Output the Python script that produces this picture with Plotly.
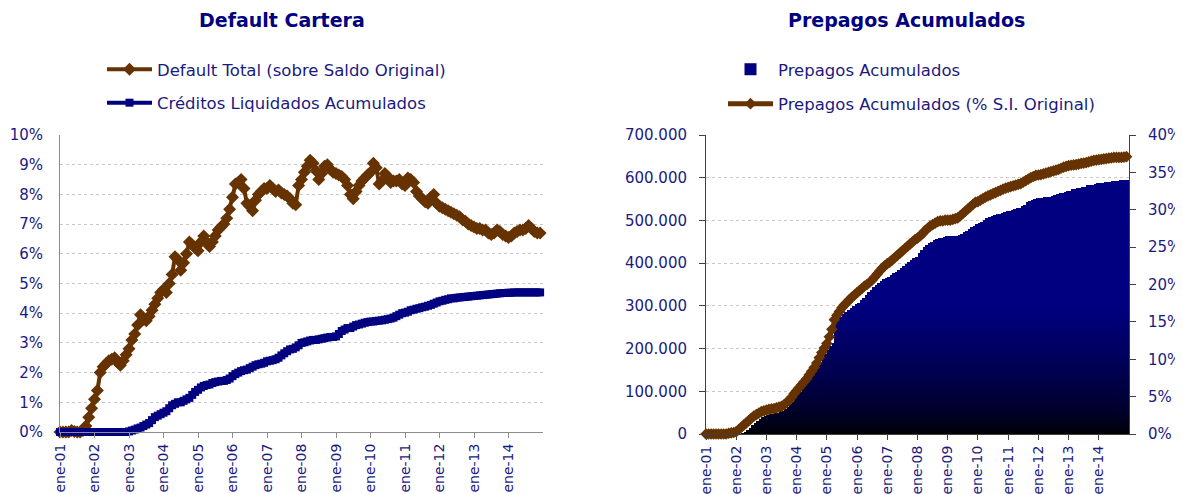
import plotly.graph_objects as go

# ---------------- data ----------------
month_abbr = ["ene", "feb", "mar", "abr", "may", "jun", "jul", "ago", "sep", "oct", "nov", "dic"]
years = ["01", "02", "03", "04", "05", "06", "07", "08", "09", "10", "11", "12", "13", "14"]
months = [f"{m}-{y}" for y in years for m in month_abbr]
tick_labels = [f"ene-{y}" for y in years]

# Default Total (sobre Saldo Original), %
default_total = [
    0, 0, 0, 0, 0.05, 0.02, 0, 0, 0.05, 0.2, 0.5, 0.8,
    1.1, 1.4, 2.0, 2.2, 2.3, 2.4, 2.45, 2.5, 2.35, 2.25, 2.4, 2.6,
    2.8, 3.1, 3.3, 3.6, 3.95, 3.8, 3.75, 3.9, 4.1, 4.3, 4.5, 4.7,
    4.8, 4.7, 5.0, 5.3, 5.9, 5.8, 5.45, 5.7, 6.0, 6.4, 6.3, 6.2,
    6.1, 6.4, 6.6, 6.4, 6.25, 6.4, 6.6, 6.8, 6.9, 7.0, 7.2, 7.5,
    7.9, 8.35, 8.4, 8.5, 8.2, 7.7, 7.6, 7.45, 7.8, 8.0, 8.1, 8.2,
    8.2, 8.3, 8.2, 8.1, 8.15, 8.05, 8.0, 7.95, 7.85, 7.7, 7.65, 8.3,
    8.5, 8.75, 8.95, 9.15, 9.05, 8.8, 8.5, 8.7, 8.95, 9.0, 8.85, 8.75,
    8.7, 8.65, 8.6, 8.5, 8.3, 8.0, 7.85, 8.1, 8.3, 8.45, 8.55, 8.65,
    8.75, 9.05, 8.9, 8.35, 8.45, 8.7, 8.6, 8.4, 8.45, 8.45, 8.5, 8.35,
    8.3, 8.55, 8.5, 8.4, 8.1, 7.95, 7.85, 7.75, 7.7, 7.9, 8.0, 7.7,
    7.6, 7.55, 7.5, 7.45, 7.4, 7.35, 7.3, 7.25, 7.15, 7.1, 7.0, 6.95,
    6.9, 6.85, 6.85, 6.8, 6.8, 6.7, 6.65, 6.7, 6.8, 6.75, 6.65, 6.6,
    6.55, 6.6, 6.7, 6.75, 6.8, 6.8, 6.85, 6.95, 6.85, 6.75, 6.7, 6.7,
]

# Créditos Liquidados Acumulados, %
creditos_liq = [
    0, 0, 0, 0, 0, 0, 0, 0, 0, 0, 0, 0,
    0, 0, 0, 0, 0, 0, 0, 0, 0, 0, 0, 0,
    0.02, 0.05, 0.08, 0.12, 0.15, 0.2, 0.25, 0.3, 0.4, 0.5, 0.55, 0.6,
    0.65, 0.7, 0.8, 0.9, 0.95, 1.0, 1.0, 1.05, 1.1, 1.15, 1.25, 1.35,
    1.42, 1.5, 1.55, 1.58, 1.6, 1.65, 1.68, 1.7, 1.72, 1.72, 1.75, 1.8,
    1.88, 1.95, 2.0, 2.05, 2.08, 2.1, 2.15, 2.2, 2.25, 2.28, 2.3, 2.33,
    2.38, 2.4, 2.42, 2.45, 2.5, 2.58, 2.65, 2.72, 2.78, 2.8, 2.85, 2.92,
    3.0, 3.02, 3.05, 3.08, 3.1, 3.1, 3.12, 3.14, 3.16, 3.18, 3.2, 3.2,
    3.22, 3.3, 3.4, 3.45, 3.5, 3.5, 3.55, 3.6, 3.62, 3.65, 3.68, 3.7,
    3.72, 3.72, 3.74, 3.75, 3.76, 3.78, 3.8, 3.82, 3.85, 3.9, 3.95, 4.0,
    4.02, 4.05, 4.1, 4.12, 4.15, 4.17, 4.2, 4.22, 4.25, 4.28, 4.32, 4.36,
    4.4, 4.42, 4.45, 4.47, 4.5, 4.5, 4.52, 4.53, 4.54, 4.55, 4.56, 4.57,
    4.58, 4.59, 4.6, 4.61, 4.62, 4.63, 4.64, 4.65, 4.66, 4.67, 4.68, 4.68,
    4.69, 4.69, 4.7, 4.7, 4.7, 4.7, 4.7, 4.7, 4.7, 4.7, 4.7, 4.7,
]

# Prepagos Acumulados (monto)
prepagos_monto = [
    0, 0, 0, 0, 0, 0, 0, 0, 0, 0, 0, 0,
    0, 0, 2000, 5000, 9000, 14000, 20000, 25000, 30000, 35000, 39000, 42000,
    44000, 46000, 48000, 49000, 50000, 52000, 54000, 58000, 64000, 70000, 76000, 83000,
    91000, 98000, 106000, 114000, 122000, 131000, 140000, 149000, 158000, 168000, 178000, 188000,
    197000, 205000, 212000, 259000, 266000, 273000, 280000, 285000, 290000, 295000, 299000, 303000,
    306000, 312000, 318000, 325000, 332000, 338000, 343000, 348000, 353000, 358000, 362000, 365000,
    368000, 372000, 376000, 380000, 384000, 388000, 392000, 397000, 402000, 407000, 411000, 415000,
    423000, 430000, 437000, 442000, 447000, 450000, 453000, 456000, 458000, 460000, 461000, 462000,
    462000, 462000, 463000, 463000, 465000, 468000, 472000, 476000, 480000, 484000, 488000, 491000,
    493000, 497000, 501000, 505000, 508000, 510000, 512000, 514000, 516000, 518000, 520000, 521000,
    522000, 524000, 526000, 528000, 530000, 533000, 537000, 542000, 546000, 548000, 550000, 552000,
    552000, 553000, 554000, 555000, 556000, 557000, 559000, 561000, 563000, 565000, 567000, 569000,
    570000, 572000, 573000, 575000, 576000, 578000, 579000, 581000, 582000, 584000, 585000, 587000,
    587000, 588000, 589000, 590000, 590000, 591000, 592000, 592000, 593000, 593000, 593000, 593000,
]

# Prepagos Acumulados (% S.I. Original)
prepagos_pct = [
    0, 0, 0, 0, 0, 0, 0, 0, 0, 0.1, 0.15, 0.2,
    0.3, 0.6, 0.9, 1.2, 1.5, 1.8, 2.1, 2.4, 2.6, 2.8, 3.0, 3.1,
    3.2, 3.3, 3.35, 3.4, 3.5, 3.6, 3.7, 3.9, 4.2, 4.5, 4.9, 5.4,
    5.8, 6.2, 6.6, 7.0, 7.4, 7.9, 8.4, 8.9, 9.5, 10.2, 10.9, 11.5,
    12.1, 13.0, 14.0, 15.3, 15.9, 16.4, 16.9, 17.3, 17.6, 18.0, 18.3, 18.6,
    18.9, 19.2, 19.5, 19.8, 20.0, 20.3, 20.6, 21.0, 21.4, 21.8, 22.2, 22.5,
    22.8, 23.0, 23.3, 23.6, 23.9, 24.2, 24.5, 24.8, 25.1, 25.4, 25.7, 26.0,
    26.2, 26.5, 26.8, 27.2, 27.5, 27.8, 28.0, 28.2, 28.4, 28.5, 28.5, 28.6,
    28.6, 28.6, 28.7, 28.8, 28.9, 29.2, 29.5, 29.8, 30.1, 30.4, 30.7, 31.0,
    31.1, 31.3, 31.5, 31.7, 31.85, 32.0, 32.15, 32.3, 32.45, 32.6, 32.75, 32.9,
    33.0, 33.1, 33.2, 33.3, 33.4, 33.5, 33.7, 33.9, 34.1, 34.3, 34.45, 34.6,
    34.65, 34.7, 34.8, 34.9, 35.0, 35.1, 35.2, 35.3, 35.4, 35.55, 35.7, 35.8,
    35.9, 35.95, 36.0, 36.05, 36.1, 36.2, 36.25, 36.3, 36.4, 36.5, 36.6, 36.65,
    36.7, 36.75, 36.8, 36.85, 36.9, 36.95, 37.0, 37.0, 37.0, 37.0, 37.05, 37.1,
]

# ---------------- style ----------------
W, H = 1183, 494
OFF = 8  # page body margin: figure is drawn 8px from the window's top-left corner
BROWN = "#663300"
NAVY = "#000080"
TXT = "#1a1a80"
FONT = "DejaVu Sans"


def px(x):  # window pixel -> paper fraction (x)
    return (x - OFF) / W


def py(y):  # window pixel -> paper fraction (y)
    return 1 - (y - OFF) / H


fig = go.Figure()

# Left chart
fig.add_trace(go.Scatter(
    x=months, y=default_total, name="Default Total (sobre Saldo Original)",
    mode="lines+markers", line=dict(color=BROWN, width=4),
    marker=dict(symbol="diamond", size=10, color=BROWN),
    xaxis="x", yaxis="y", legend="legend", legendgroup="dt", cliponaxis=False,
))
fig.add_trace(go.Scatter(
    x=months, y=creditos_liq, name="Créditos Liquidados Acumulados",
    mode="lines+markers", line=dict(color=NAVY, width=4),
    marker=dict(symbol="square", size=8, color=NAVY),
    xaxis="x", yaxis="y", legend="legend", legendgroup="cl", cliponaxis=False,
))

# Right chart: bars with vertical navy->black gradient (stacked slices)
STEP = 10000
NLEV = 60


def level_color(k):
    v = (k + 0.5) * STEP
    t = min(1.0, v / 300000.0)
    b = round(128 * t ** 0.65)
    return f"rgb(0,0,{b})"


for k in range(NLEV):
    seg = [max(0, min(STEP, v - k * STEP)) for v in prepagos_monto]
    fig.add_trace(go.Bar(
        x=months, y=seg, name="Prepagos Acumulados",
        marker=dict(color=level_color(k), line=dict(width=0)),
        offset=0, width=1,
        xaxis="x2", yaxis="y2", legend="legend2", legendgroup="pm",
        showlegend=(k == 50), hoverinfo="skip",
    ))

fig.add_trace(go.Scatter(
    x=months, y=prepagos_pct, name="Prepagos Acumulados (% S.I. Original)",
    mode="lines+markers", line=dict(color=BROWN, width=5),
    marker=dict(symbol="diamond", size=9, color=BROWN),
    xaxis="x2", yaxis="y3", legend="legend2", legendgroup="pp", cliponaxis=False,
))

tickfont = dict(family=FONT, size=15, color=TXT)
xtickfont = dict(family=FONT, size=14, color=TXT)
legfont = dict(family=FONT, size=16.5, color=TXT)

xcommon = dict(
    type="category", range=[0, 168], tickmode="array", tickvals=tick_labels,
    ticktext=tick_labels, tickangle=-90, ticks="outside", ticklen=5,
    showgrid=False, zeroline=False, showline=True, tickfont=xtickfont,
    automargin=False,
)

fig.update_layout(
    width=W, height=H,
    margin=dict(l=0, r=0, t=0, b=0, pad=0, autoexpand=False),
    paper_bgcolor="white", plot_bgcolor="white",
    font=dict(family=FONT, size=15, color=TXT),
    separators=",.",
    barmode="stack", bargap=0,
    hovermode=False,
    xaxis=dict(domain=[px(60), px(543)], anchor="y", linecolor="#8c8c8c",
               tickcolor="#8c8c8c", **xcommon),
    yaxis=dict(domain=[py(432), py(135)], anchor="x", range=[0, 10], dtick=1,
               ticksuffix="%", showline=True, linecolor="#8c8c8c", ticks="",
               ticklabelstandoff=13, showgrid=True, gridcolor="#c8c8c8",
               griddash="dot", zeroline=False, tickfont=tickfont, automargin=False),
    xaxis2=dict(domain=[px(706), px(1129)], anchor="y2", linecolor="#404040",
                tickcolor="#404040", **xcommon),
    yaxis2=dict(domain=[py(434), py(135)], anchor="x2", range=[0, 700000],
                dtick=100000, tickformat=",d", showline=True, linecolor="#404040",
                ticks="outside", ticklen=6, tickcolor="#404040", ticklabelstandoff=9,
                showgrid=True, gridcolor="#c8c8c8", griddash="dot", zeroline=False,
                tickfont=tickfont, automargin=False),
    yaxis3=dict(overlaying="y2", side="right", anchor="x2", range=[0, 40], dtick=5,
                ticksuffix="%", showline=True, linecolor="#404040", ticks="outside",
                ticklen=6, tickcolor="#404040", ticklabelstandoff=9,
                showgrid=False, zeroline=False, tickfont=tickfont, automargin=False),
    legend=dict(x=px(102), y=py(52), xanchor="left", yanchor="top",
                orientation="v", traceorder="grouped", tracegroupgap=9,
                itemwidth=45, bgcolor="rgba(0,0,0,0)", font=legfont),
    legend2=dict(x=px(723), y=py(52), xanchor="left", yanchor="top",
                 orientation="v", traceorder="grouped", tracegroupgap=10,
                 itemwidth=45, bgcolor="rgba(0,0,0,0)", font=legfont),
    annotations=[
        dict(text="<b>Default Cartera</b>", x=px(282), y=py(20), xref="paper",
             yref="paper", xanchor="center", yanchor="middle", showarrow=False,
             font=dict(family=FONT, size=19, color=NAVY)),
        dict(text="<b>Prepagos Acumulados</b>", x=px(907), y=py(20), xref="paper",
             yref="paper", xanchor="center", yanchor="middle", showarrow=False,
             font=dict(family=FONT, size=19, color=NAVY)),
    ],
)

fig.write_html("out.html")
